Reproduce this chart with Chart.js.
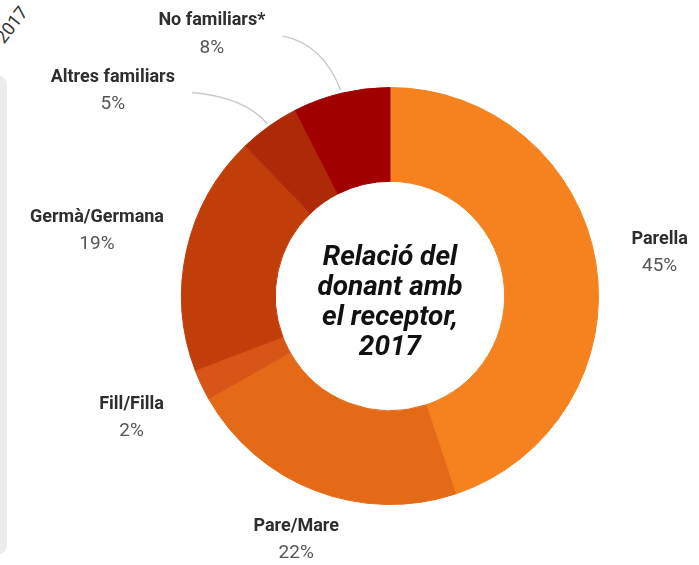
<!DOCTYPE html>
<html lang="ca">
<head>
    <meta charset="UTF-8">
    <title>Relació del donant amb el receptor, 2017</title>
    <script src="https://cdn.jsdelivr.net/npm/chart.js"></script>
    <style>
        html, body { margin: 0; padding: 0; background: #fff; overflow: hidden; }
        .stage { position: relative; width: 699px; height: 565px; }
        #donantChart { position: absolute; left: 0; top: 0; }
        /* fragment of the neighbouring panel, cut off at the left edge */
        .side-panel { position: absolute; left: -20px; top: 75px; width: 27px; height: 480px;
            background: #ececec; border-radius: 10px; }
        .side-year { position: absolute; left: -9px; top: 14px; font: 18px Roboto, sans-serif;
            color: #333; transform: rotate(-52deg); transform-origin: center; }
    </style>
</head>
<body>
<div class="stage">
    <div class="side-panel"></div>
    <div class="side-year">2017</div>
    <canvas id="donantChart" width="699" height="565"></canvas>
</div>

<script>
    // percentages (labels show them rounded)
    const categories = ['Parella', 'Pare/Mare', 'Fill/Filla', 'Germà/Germana', 'Altres familiars', 'No familiars*'];
    const shares = [44.9, 21.9, 2.4, 18.6, 4.7, 7.5];
    const sliceColors = ['#f5821f', '#e56a18', '#d85518', '#c13e0a', '#ad2908', '#a00000'];
    const centerTitle = ['Relació del', 'donant amb', 'el receptor,', '2017'];

    // where each label sits: distance (x outer radius) and turn from the slice middle, degrees
    const labelLayout = [
        { dist: 1.31, turn: 0 },
        { dist: 1.252, turn: 0 },
        { dist: 1.37, turn: 0 },
        { dist: 1.44, turn: 0 },
        { dist: 1.655, turn: -18, leader: true },
        { dist: 1.52, turn: -20.7, leader: true }
    ];

    const outsideLabels = {
        id: 'outsideLabels',
        afterDraw(chart) {
            const ctx = chart.ctx;
            const arcs = chart.getDatasetMeta(0).data;
            ctx.save();
            arcs.forEach((arc, i) => {
                const p = arc.getProps(['x', 'y', 'startAngle', 'endAngle', 'outerRadius'], true);
                const mid = (p.startAngle + p.endAngle) / 2;
                const lay = labelLayout[i];
                const a = mid + lay.turn * Math.PI / 180;
                const lx = p.x + Math.cos(a) * p.outerRadius * lay.dist;
                const ly = p.y + Math.sin(a) * p.outerRadius * lay.dist;

                ctx.textAlign = 'center';
                ctx.textBaseline = 'middle';
                ctx.font = 'bold 18px Roboto';
                ctx.fillStyle = '#2e2e2e';
                ctx.fillText(categories[i], lx, ly - 13);
                const nameW = ctx.measureText(categories[i]).width;
                ctx.font = '19px Roboto';
                ctx.fillStyle = '#555';
                ctx.fillText(Math.round(shares[i]) + '%', lx, ly + 14);

                if (lay.leader) {
                    const sx = lx + nameW / 2 + 17, sy = ly + 2;
                    const ex = p.x + Math.cos(mid) * (p.outerRadius + 3);
                    const ey = p.y + Math.sin(mid) * (p.outerRadius + 3);
                    ctx.beginPath();
                    ctx.moveTo(sx, sy);
                    ctx.quadraticCurveTo(sx + (ex - sx) * 0.7, sy + (ey - sy) * 0.15, ex, ey);
                    ctx.strokeStyle = '#cacaca';
                    ctx.lineWidth = 1.5;
                    ctx.stroke();
                }
            });

            // title inside the hole
            const c = arcs[0];
            ctx.font = 'italic bold 28px Roboto';
            ctx.fillStyle = '#111';
            ctx.textAlign = 'center';
            ctx.textBaseline = 'middle';
            centerTitle.forEach((line, k) => {
                ctx.fillText(line, c.x, c.y - 38 + k * 30);
            });
            ctx.restore();
        }
    };

    new Chart(document.getElementById('donantChart'), {
        type: 'doughnut',
        data: {
            labels: categories,
            datasets: [{
                data: shares,
                backgroundColor: sliceColors,
                borderColor: sliceColors,
                borderWidth: 1
            }]
        },
        options: {
            responsive: false,
            animation: false,
            cutout: '55%',
            layout: { padding: { left: 181, right: 100, top: 87, bottom: 60 } },
            plugins: {
                legend: { display: false },
                tooltip: { enabled: false }
            }
        },
        plugins: [outsideLabels]
    });
</script>
</body>
</html>
